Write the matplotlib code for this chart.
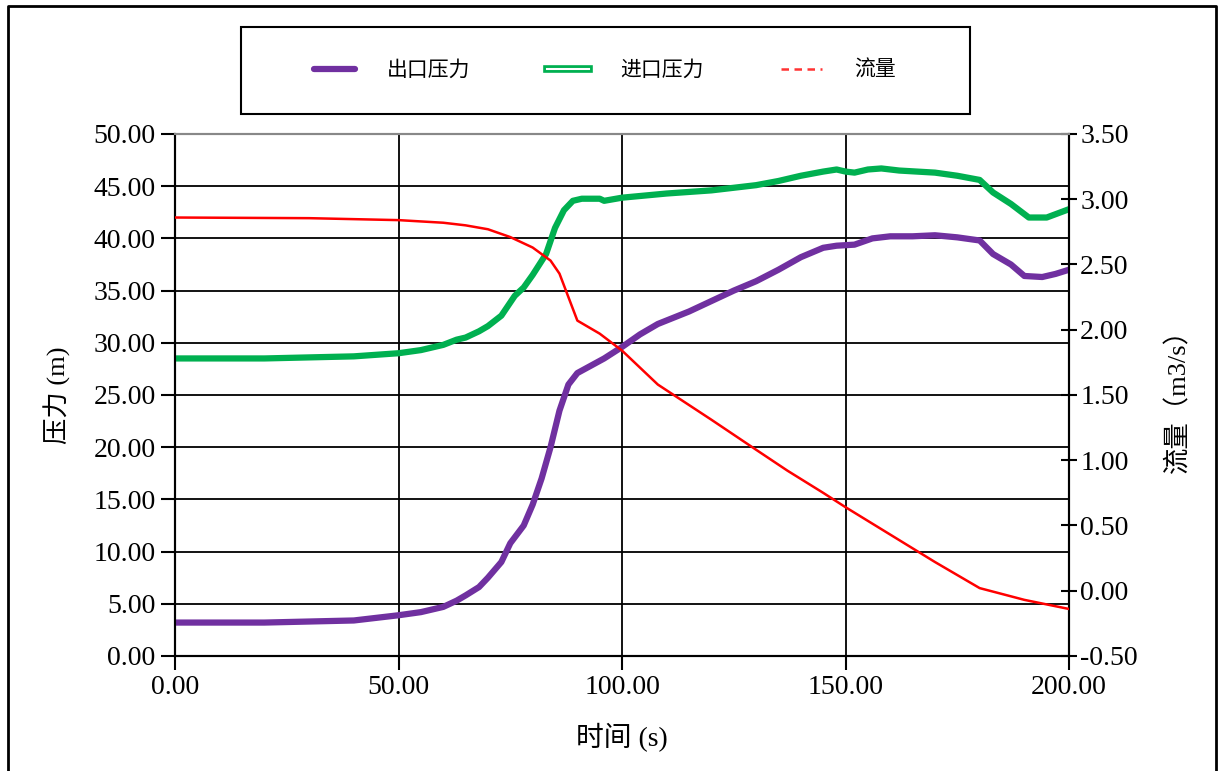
import matplotlib
matplotlib.use("Agg")
import matplotlib.pyplot as plt
from matplotlib.lines import Line2D
from matplotlib.patches import Rectangle
import matplotlib.patheffects as pe

plt.rcParams['font.family'] = ['Liberation Serif', 'Noto Sans CJK SC']

# outlet pressure (m)
t_out = [0, 20, 40, 50, 55, 60, 63, 65, 68, 70, 73, 75, 78, 80, 82, 84, 86, 88, 90, 93, 96,
         100, 104, 108, 115, 120, 125, 130, 135, 140, 145, 148, 152, 156, 160, 165, 170,
         175, 180, 183, 187, 190, 194, 197, 200]
p_out = [3.2, 3.2, 3.4, 3.9, 4.2, 4.7, 5.3, 5.8, 6.6, 7.5, 9.0, 10.8, 12.5, 14.5, 17.0,
         20.0, 23.5, 26.0, 27.1, 27.8, 28.5, 29.6, 30.8, 31.8, 33.0, 34.0, 35.0, 35.9, 37.0,
         38.2, 39.1, 39.3, 39.4, 40.0, 40.2, 40.2, 40.3, 40.1, 39.8, 38.5, 37.5, 36.4, 36.3,
         36.6, 37.0]

# inlet pressure (m)
t_in = [0, 20, 40, 50, 55, 60, 63, 65, 68, 70, 73, 76, 78, 80, 83, 85, 87, 89, 91, 95, 96,
        100, 110, 120, 130, 135, 140, 145, 148, 150, 152, 155, 158, 162, 170, 175, 180,
        183, 187, 191, 195, 200]
p_in = [28.5, 28.5, 28.7, 29.0, 29.3, 29.8, 30.3, 30.5, 31.1, 31.6, 32.6, 34.5, 35.3, 36.5,
        38.5, 41.0, 42.7, 43.6, 43.8, 43.8, 43.6, 43.9, 44.3, 44.6, 45.1, 45.5, 46.0, 46.4,
        46.6, 46.4, 46.3, 46.6, 46.7, 46.5, 46.3, 46.0, 45.6, 44.4, 43.3, 42.0, 42.0, 42.8]

# flow (m3/s)
t_q = [0, 30, 50, 60, 65, 70, 75, 80, 84, 86, 88, 90, 95, 100, 108, 120, 130, 137, 145,
       150, 160, 170, 180, 190, 200]
q = [2.86, 2.855, 2.84, 2.82, 2.80, 2.77, 2.71, 2.63, 2.53, 2.43, 2.25, 2.07, 1.97, 1.84,
     1.58, 1.31, 1.08, 0.92, 0.75, 0.64, 0.43, 0.22, 0.02, -0.07, -0.14]

fig = plt.figure(figsize=(12.19, 7.71), dpi=100)
ax = fig.add_axes([0.1436, 0.1492, 0.7334, 0.677])
ax2 = ax.twinx()

purple = '#7030a0'
green = '#00b050'
red = '#ff0000'

ax.plot(t_out, p_out, color=purple, lw=4.5, solid_capstyle='round', solid_joinstyle='round', zorder=3)
ax.plot(t_in, p_in, color=green, lw=4.5, solid_capstyle='round', solid_joinstyle='round', zorder=3)
ax2.plot(t_q, q, color=red, lw=1.8, zorder=3)

ax.set_xlim(0, 200)
ax.set_ylim(0, 50)
ax2.set_ylim(-0.5, 3.5)
ax.set_xticks([0, 50, 100, 150, 200])
ax.set_yticks(range(0, 51, 5))
ax2.set_yticks([-0.5 + 0.5 * i for i in range(9)])
ax.xaxis.set_major_formatter(lambda v, p: f"{v:.2f}")
ax.yaxis.set_major_formatter(lambda v, p: f"{v:.2f}")
ax2.yaxis.set_major_formatter(lambda v, p: f"{v:.2f}")

ax.grid(True, color='black', lw=1.3)
ax.set_axisbelow(True)
for s in ['left', 'bottom', 'right']:
    ax.spines[s].set_linewidth(1.5)
    ax2.spines[s].set_linewidth(1.5)
ax.spines['top'].set_color('#888888')
ax2.spines['top'].set_color('#888888')
ax.spines['top'].set_linewidth(1.5)
ax2.spines['top'].set_linewidth(1.5)

ax.tick_params(axis='both', labelsize=20, width=1.5, length=10, direction='out', pad=4)
ax2.tick_params(axis='y', labelsize=20, width=1.5, length=12, direction='inout', pad=2)

ax.set_xlabel('时间 (s)', fontsize=20, labelpad=16)
ax.set_ylabel('压力 (m)', fontsize=19, labelpad=16)
ax2.set_ylabel('流量（m3/s）', fontsize=19, labelpad=20)

# legend with its own box
fig.patches.append(Rectangle((241 / 1219, 1 - 114 / 771), 729 / 1219, 87 / 771,
                             transform=fig.transFigure, fill=False, lw=1.5, ec='black'))
handles = [
    Line2D([], [], color=purple, lw=4.5, solid_capstyle='round'),
    Line2D([], [], color='white', lw=1.5,
           path_effects=[pe.Stroke(linewidth=5.5, foreground=green), pe.Normal()]),
    Line2D([], [], color=red, lw=1.8, ls=(0, (3, 2.2)), alpha=0.8),
]
fig.legend(handles, ['出口压力', '进口压力', '流量'], loc='center',
           bbox_to_anchor=(0.496, 1 - 71 / 771), ncol=3, frameon=False, fontsize=15,
           handlelength=2.0, handletextpad=1.5, columnspacing=3.7)

# outer figure border
fig.add_artist(Line2D([8 / 1219, 8 / 1219, 1216 / 1219, 1216 / 1219],
                      [0, 1 - 6 / 771, 1 - 6 / 771, 0], transform=fig.transFigure,
                      color='black', lw=2))

fig.savefig('out.png', dpi=100)
